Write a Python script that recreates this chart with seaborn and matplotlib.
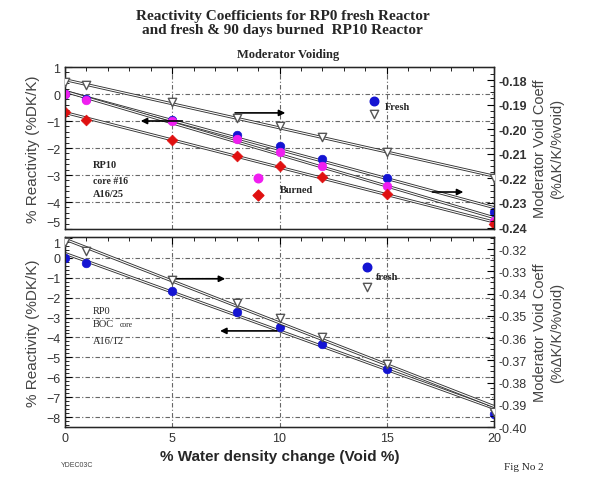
import numpy as np
import pandas as pd
import matplotlib
matplotlib.use("Agg")
import matplotlib.pyplot as plt
import matplotlib.patheffects as pe
import seaborn as sns

# void fraction (%)
void = [0, 1, 5, 8, 10, 12, 15, 20]

# top panel: RP10 core, reactivity (%DK/K)
rp10_fresh = [0.0, -0.19, -0.98, -1.52, -1.93, -2.41, -3.11, -4.37]
rp10_burn_a = [0.0, -0.22, -1.0, -1.67, -2.15, -2.67, -3.41, -4.70]
rp10_burn_b = [-0.67, -0.96, -1.70, -2.30, -2.67, -3.07, -3.70, -4.81]
# top panel: void coefficient (%DK/K/%void)
rp10_coef = [-0.1808, -0.1820, -0.1889, -0.1954, -0.1987, -0.2032, -0.2093, -0.2198]

# bottom panel: RP0 BOC core
rp0_react = [0.0, -0.25, -1.66, -2.71, -3.47, -4.32, -5.58, -7.84]
rp0_coef = [-0.3169, -0.3209, -0.3339, -0.3443, -0.3510, -0.3596, -0.3717, -0.3933]

blue = "#1414d2"
magenta = "#f01ef0"
red = "#e01010"

sns.set_style("white")
plt.rcParams["font.family"] = ["Liberation Sans", "DejaVu Sans"]
serif = ["Liberation Serif", "DejaVu Serif"]

fig = plt.figure(figsize=(5.89, 4.81), dpi=100)
ax1 = fig.add_axes([65 / 589, 1 - 230 / 481, 429 / 589, 162 / 481])
ax2 = fig.add_axes([65 / 589, 1 - 428 / 481, 429 / 589, 190 / 481])
ax1r = ax1.twinx()
ax2r = ax2.twinx()

fx = [pe.Stroke(linewidth=2.1, foreground="#333333"), pe.Normal()]
lkw = dict(color="white", lw=0.8, path_effects=fx, zorder=2)


def fit(ax, y):
    sns.regplot(x=void, y=y, ax=ax, scatter=False, ci=None, line_kws=lkw, truncate=True)


def tri(ax, y, **kw):
    sns.scatterplot(x=void, y=y, ax=ax, marker="v", s=36, facecolor="white",
                    edgecolor="#555555", linewidth=1.0, zorder=4, **kw)


def dots(ax, y, c, m="o", s=38):
    sns.scatterplot(x=void, y=y, ax=ax, marker=m, s=s, color=c,
                    edgecolor=c, linewidth=0.5, zorder=5)


gridkw = dict(color="#666666", lw=0.8, ls=(0, (4, 2, 1, 2)), zorder=0)

# ---- top panel
for yy in [0, -1, -2, -3, -4]:
    ax1.axhline(yy, **gridkw)
for xx in [5, 10, 15]:
    ax1.axvline(xx, **gridkw)
fit(ax1, rp10_fresh)
fit(ax1, rp10_burn_a)
fit(ax1, rp10_burn_b)
dots(ax1, rp10_fresh, blue)
dots(ax1, rp10_burn_a, magenta)
dots(ax1, rp10_burn_b, red, m="D", s=30)
fit(ax1r, rp10_coef)
tri(ax1r, rp10_coef)

ax1.set_xlim(0, 20)
ax1.set_ylim(-5, 1)
ax1r.set_ylim(-0.2406, -0.1747)

# legend-like markers
ax1.scatter([14.4], [-0.26], s=38, color=blue, zorder=5)
ax1.scatter([14.4], [-0.74], s=36, marker="v", facecolor="white", edgecolor="#555555", zorder=5)
ax1.text(14.9, -0.45, "Fresh", family=serif, fontsize=7.5, fontweight="bold", va="center")
ax1.scatter([9.0], [-3.11], s=38, color=magenta, zorder=5)
ax1.scatter([9.0], [-3.74], s=30, marker="D", color=red, zorder=5)
ax1.text(10.0, -3.55, "Burned", family=serif, fontsize=7.5, fontweight="bold", va="center")
ax1.text(1.3, -2.6, "RP10", family=serif, fontsize=7.5, fontweight="bold", va="center")
ax1.text(1.3, -3.2, "core #16", family=serif, fontsize=7, fontweight="bold", va="center")
ax1.text(1.3, -3.7, "A16/25", family=serif, fontsize=7.5, fontweight="bold", va="center")

akw = dict(arrowstyle="-|>", color="black", lw=1.2, mutation_scale=9)
ax1.annotate("", xy=(10.4, -0.7), xytext=(7.8, -0.7), arrowprops=akw, zorder=6)
ax1.annotate("", xy=(3.4, -1.0), xytext=(5.6, -1.0), arrowprops=akw, zorder=6)
ax1.annotate("", xy=(18.7, -3.63), xytext=(17.0, -3.63), arrowprops=akw, zorder=6)

# ---- bottom panel
for yy in range(0, -9, -1):
    ax2.axhline(yy, **gridkw)
for xx in [5, 10, 15]:
    ax2.axvline(xx, **gridkw)
fit(ax2, rp0_react)
dots(ax2, rp0_react, blue)
fit(ax2r, rp0_coef)
tri(ax2r, rp0_coef)

ax2.set_xlim(0, 20)
ax2.set_ylim(-8.5, 1.05)
ax2r.set_ylim(-0.400, -0.3146)

ax2.scatter([14.1], [-0.45], s=38, color=blue, zorder=5)
ax2.scatter([14.1], [-1.46], s=36, marker="v", facecolor="white", edgecolor="#555555", zorder=5)
ax2.text(14.5, -0.95, "fresh", family=serif, fontsize=7.5, fontweight="bold", va="center")
ax2.text(1.3, -2.66, "RP0", family=serif, fontsize=7.5, va="center")
ax2.text(1.3, -3.3, "BOC", family=serif, fontsize=7.5, va="center")
ax2.text(2.55, -3.33, "core", family=serif, fontsize=5.5, va="center")
ax2.text(1.3, -4.17, "A16/12", family=serif, fontsize=7.5, va="center")
ax2.annotate("", xy=(7.6, -1.05), xytext=(4.9, -1.05), arrowprops=akw, zorder=6)
ax2.annotate("", xy=(7.1, -3.67), xytext=(10.0, -3.67), arrowprops=akw, zorder=6)

# ---- axes styling
for a in [ax1, ax2]:
    a.set_xticks([0, 5, 10, 15, 20])
    a.set_xticks(np.arange(0, 21, 1), minor=True)
    a.set_ylabel("% Reactivity (%DK/K)", fontsize=11, color="#444444")
    for s in a.spines.values():
        s.set_color("black")
        s.set_linewidth(1.0)
ax1.set_yticks(range(-5, 2))
ax1.set_yticks(np.arange(-5, 1.01, 0.2), minor=True)
ax2.set_yticks(range(-8, 2))
ax2.set_yticks(np.arange(-8.4, 1.01, 0.2), minor=True)
ax1.tick_params(axis="x", labelbottom=False)
ax2.set_xticklabels(["0", "5", "10", "15", "20"])
ax2.set_xlabel("% Water density change (Void %)", fontsize=11, fontweight="bold")
for a in [ax1, ax2, ax1r, ax2r]:
    a.tick_params(which="both", direction="in", labelsize=9, colors="black",
                  top=True, labelcolor="#333333")
    a.tick_params(which="major", length=5)
    a.tick_params(which="minor", length=3)
# keep the "-5" / "1" labels at the panel joint apart
ax1.get_yticklabels()[0].set_va("bottom")
ax2.get_yticklabels()[-1].set_va("top")
ax1r.set_yticks(np.arange(-0.24, -0.175, 0.01))
ax1r.set_yticklabels([f"{v:.2f}" for v in np.arange(-0.24, -0.175, 0.01)],
                     fontweight="bold")
ax1r.set_yticks(np.arange(-0.24, -0.175, 0.0025), minor=True)
ax2r.set_yticks(np.arange(-0.40, -0.315, 0.01))
ax2r.set_yticklabels([f"{v:.2f}" for v in np.arange(-0.40, -0.315, 0.01)])
ax2r.set_yticks(np.arange(-0.40, -0.315, 0.0025), minor=True)
for a in [ax1r, ax2r]:
    a.set_ylabel("Moderator Void Coeff\n(%ΔK/K/%void)", fontsize=10.5, color="#444444",
                 linespacing=1.3)
    a.grid(False)

fig.text(0.48, 0.98, "Reactivity Coefficients for RP0 fresh Reactor\nand fresh & 90 days burned  RP10 Reactor",
         ha="center", va="top", family=serif, fontsize=11, fontweight="bold", linespacing=1.15)
fig.text(0.49, 0.885, "Moderator Voiding", ha="center", va="center", family=serif,
         fontsize=9, fontweight="bold")
fig.text(0.89, 0.028, "Fig No 2", ha="center", va="center", family=serif, fontsize=8)
fig.text(0.13, 0.032, "YDEC03C", ha="center", va="center", fontsize=5, color="#444444")

fig.savefig("out.png", dpi=100)
